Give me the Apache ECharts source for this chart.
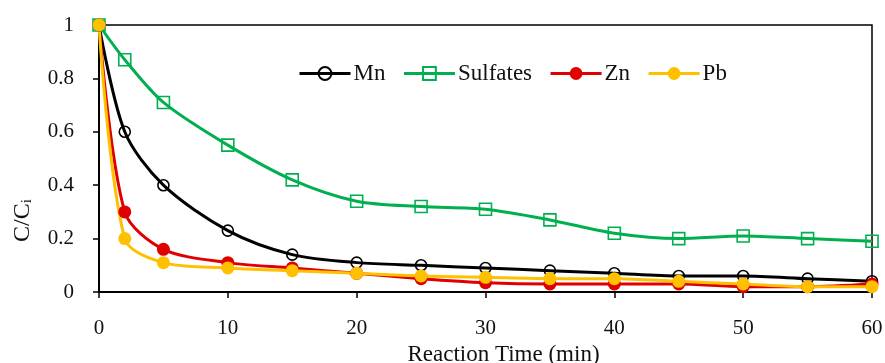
<!DOCTYPE html>
<html>
<head>
<meta charset="utf-8">
<script src="https://cdn.jsdelivr.net/npm/echarts@6/dist/echarts.min.js"></script>
<style>
  html, body { margin: 0; padding: 0; background: #fff; }
  #chart { width: 885px; height: 363px; }
</style>
</head>
<body>
<div id="chart"></div>
<script>
// reaction time (min)
const times = [0, 2, 5, 10, 15, 20, 25, 30, 35, 40, 45, 50, 55, 60];

// C/Ci per species
const mnValues = [1, 0.60, 0.40, 0.23, 0.14, 0.11, 0.10, 0.09, 0.08, 0.07, 0.06, 0.06, 0.05, 0.04];
const sulfateValues = [1, 0.87, 0.71, 0.55, 0.42, 0.34, 0.32, 0.31, 0.27, 0.22, 0.20, 0.21, 0.20, 0.19];
const znValues = [1, 0.30, 0.16, 0.11, 0.09, 0.07, 0.05, 0.035, 0.03, 0.03, 0.03, 0.02, 0.02, 0.03];
const pbValues = [1, 0.20, 0.11, 0.09, 0.08, 0.07, 0.06, 0.055, 0.05, 0.05, 0.04, 0.03, 0.02, 0.02];

const xTicks = [0, 10, 20, 30, 40, 50, 60];
const yTicks = [0, 0.2, 0.4, 0.6, 0.8, 1];

const FONT = '"Liberation Serif", serif';

function pairs(vals) {
    return times.map((t, i) => [t, vals[i]]);
}

function lineSeries(name, vals, color, symbol, size, hollow) {
    return {
        name: name,
        type: 'line',
        data: pairs(vals),
        smooth: 0.3,
        clip: false,
        symbol: symbol,
        symbolSize: size,
        showAllSymbol: true,
        color: color,
        lineStyle: { color: color, width: 3 },
        itemStyle: hollow
            ? { color: 'rgba(255,255,255,0)', borderColor: color, borderWidth: 1.6 }
            : { color: color, borderWidth: 0 },
        emphasis: { disabled: true }
    };
}

const chart = echarts.init(document.getElementById('chart'), null, { renderer: 'canvas' });

chart.setOption({
    animation: false,
    backgroundColor: '#fff',
    grid: {
        left: 99, right: 13, top: 25, bottom: 71,
        outerBoundsMode: 'none',
        show: true, borderColor: '#000', borderWidth: 1.5
    },
    legend: {
        left: 293, top: 57,
        itemWidth: 51, itemHeight: 16, itemGap: 17,
        lineStyle: { width: 3 },
        textStyle: { fontFamily: FONT, fontSize: 23, color: '#111', padding: [0, 0, 0, -2] },
        data: ['Mn', 'Sulfates', 'Zn', 'Pb']
    },
    xAxis: {
        type: 'value',
        min: xTicks[0], max: xTicks[xTicks.length - 1], interval: 10,
        name: 'Reaction Time (min)',
        nameLocation: 'middle', nameGap: 50,
        nameTextStyle: { fontFamily: FONT, fontSize: 23, color: '#111', padding: [0, 0, 0, 36] },
        axisLine: { lineStyle: { color: '#000', width: 2 } },
        axisTick: { show: true, length: 6, lineStyle: { color: '#000', width: 1.5 } },
        axisLabel: { fontFamily: FONT, fontSize: 21, color: '#111', margin: 26 },
        splitLine: { show: false }
    },
    yAxis: {
        type: 'value',
        min: yTicks[0], max: yTicks[yTicks.length - 1], interval: 0.2,
        name: '{a|C/C}{b|i}',
        nameLocation: 'middle', nameGap: 64, nameRotate: 90,
        nameTextStyle: {
            padding: [0, 124, 0, 0],
            rich: {
                a: { fontFamily: FONT, fontSize: 24, color: '#111' },
                b: { fontFamily: FONT, fontSize: 15, color: '#111', verticalAlign: 'bottom', padding: [8, 0, 0, 0] }
            }
        },
        axisLine: { show: true, lineStyle: { color: '#000', width: 2 } },
        axisTick: { show: true, length: 6, lineStyle: { color: '#000', width: 1.5 } },
        axisLabel: {
            fontFamily: FONT, fontSize: 21, color: '#111', margin: 25,
            formatter: v => String(Math.round(v * 10) / 10)
        },
        splitLine: { show: false }
    },
    series: [
        lineSeries('Mn', mnValues, '#000000', 'circle', 11, true),
        lineSeries('Sulfates', sulfateValues, '#00B050', 'rect', 12, true),
        lineSeries('Zn', znValues, '#E00000', 'circle', 13, false),
        lineSeries('Pb', pbValues, '#FFC000', 'circle', 13, false)
    ]
});
</script>
</body>
</html>
